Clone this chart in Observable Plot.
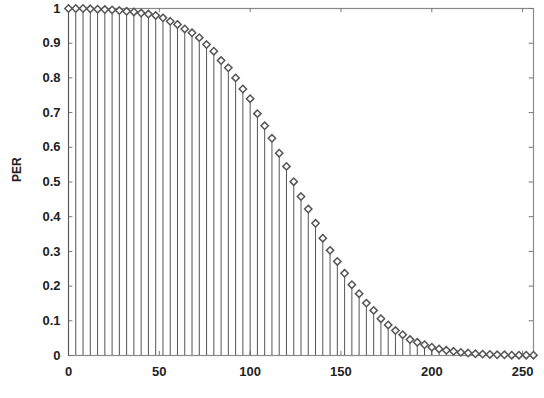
<!DOCTYPE html>
<html>
<head>
<meta charset="utf-8">
<script src="https://cdn.jsdelivr.net/npm/d3@7"></script>
<script src="https://cdn.jsdelivr.net/npm/@observablehq/plot@0.6"></script>
<style>
  html, body { margin: 0; padding: 0; background: #fff; }
  #chart { width: 544px; height: 398px; }
</style>
</head>
<body>
<div id="chart"></div>
<script>
// Packet length / index (x) and packet error rate (y)
const xValues = [0, 4, 8, 12, 16, 20, 24, 28, 32, 36, 40, 44, 48, 52, 56, 60, 64, 68, 72, 76, 80, 84, 88, 92, 96, 100, 104, 108, 112, 116, 120, 124, 128, 132, 136, 140, 144, 148, 152, 156, 160, 164, 168, 172, 176, 180, 184, 188, 192, 196, 200, 204, 208, 212, 216, 220, 224, 228, 232, 236, 240, 244, 248, 252, 256];
const perValues = [1.000, 1.000, 1.000, 0.999, 0.998, 0.997, 0.996, 0.994, 0.992, 0.990, 0.987, 0.984, 0.980, 0.973, 0.963, 0.954, 0.941, 0.930, 0.916, 0.896, 0.877, 0.850, 0.829, 0.800, 0.768, 0.740, 0.697, 0.662, 0.626, 0.583, 0.545, 0.501, 0.458, 0.422, 0.381, 0.338, 0.303, 0.271, 0.237, 0.204, 0.178, 0.151, 0.130, 0.106, 0.088, 0.072, 0.060, 0.046, 0.038, 0.031, 0.024, 0.019, 0.015, 0.012, 0.009, 0.007, 0.005, 0.004, 0.003, 0.002, 0.002, 0.001, 0.001, 0.001, 0.001];
const xTicks = [0, 50, 100, 150, 200, 250];
const yTicks = [0, 0.1, 0.2, 0.3, 0.4, 0.5, 0.6, 0.7, 0.8, 0.9, 1];
const yLabel = "PER";

const data = xValues.map((x, i) => ({x, y: perValues[i]}));
const fmtY = d => (d === 0 || d === 1) ? String(d) : d.toFixed(1);

const chart = Plot.plot({
  width: 544,
  height: 398,
  marginLeft: 68,
  marginRight: 11,
  marginTop: 8,
  marginBottom: 43,
  style: {fontFamily: "'Liberation Sans', Arial, sans-serif", fontSize: "13px", fontWeight: "bold", background: "#fff"},
  x: {domain: [0, 256], ticks: xTicks, label: null},
  y: {domain: [0, 1], ticks: yTicks, label: null, tickFormat: fmtY},
  marks: [
    Plot.frame({stroke: "#8a8a8a", strokeWidth: 1.2}),
    // inward tick marks on all four sides
    Plot.ruleY(yTicks, {x1: 0, x2: 2.4, stroke: "#777"}),
    Plot.ruleY(yTicks, {x1: 253.6, x2: 256, stroke: "#777"}),
    Plot.ruleX(xTicks, {y1: 0, y2: 0.012, stroke: "#777"}),
    Plot.ruleX(xTicks, {y1: 0.988, y2: 1, stroke: "#777"}),
    Plot.axisX(xTicks, {tickSize: 0, tickPadding: 11, fontSize: 13, fontWeight: "bold", fill: "#222"}),
    Plot.axisY(yTicks, {tickSize: 0, tickPadding: 8, tickFormat: fmtY, fontSize: 13, fontWeight: "bold", fill: "#222"}),
    // stems
    Plot.ruleX(data, {x: "x", y1: 0, y2: "y", stroke: "#555", strokeWidth: 1}),
    // markers
    Plot.dot(data, {x: "x", y: "y", symbol: "diamond2", r: 3.3, fill: "#fff", stroke: "#555", strokeWidth: 1.5}),
    Plot.text([yLabel], {frameAnchor: "left", rotate: -90, dx: -51, fontSize: 12, fontWeight: "bold", fill: "#222"})
  ]
});
document.getElementById("chart").appendChild(chart);
</script>
</body>
</html>
